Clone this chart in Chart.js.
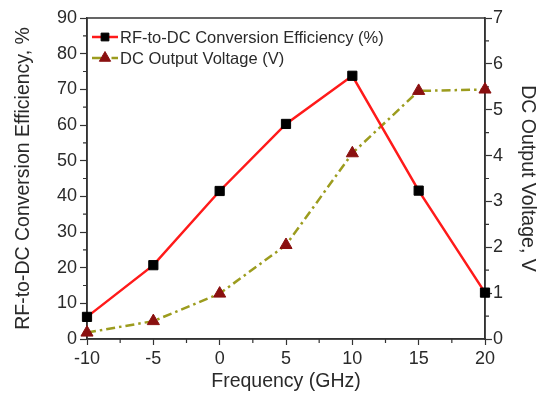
<!DOCTYPE html>
<html>
<head>
<meta charset="utf-8">
<script src="https://cdn.jsdelivr.net/npm/chart.js@4.4.1/dist/chart.umd.min.js"></script>
<style>
html,body{margin:0;padding:0;background:#fff;}
#wrap{width:548px;height:395px;position:relative;}
</style>
</head>
<body>
<div id="wrap"><canvas id="c" width="548" height="395"></canvas></div>
<script>
const frequencies = [-10, -5, 0, 5, 10, 15, 20];
const efficiency = [6.2, 20.7, 41.5, 60.3, 73.8, 41.6, 13.0];
const voltage = [0.14, 0.39, 0.99, 2.05, 4.05, 5.41, 5.44];
const xTicks = [-10, -5, 0, 5, 10, 15, 20];
const effLabel = 'RF-to-DC Conversion Efficiency (%)';
const voltLabel = 'DC Output Voltage (V)';

const FONT = "'Liberation Sans', Arial, sans-serif";
const AXIS = '#333333';
const TXT = '#2a2a2a';

const frameAndMinor = {
  id: 'frameAndMinor',
  beforeDatasetsDraw(chart) {
    const {ctx, chartArea: a, scales} = chart;
    ctx.save();
    ctx.strokeStyle = AXIS;
    ctx.lineWidth = 1.5;
    ctx.strokeRect(a.left, a.top, a.right - a.left, a.bottom - a.top);
    ctx.lineWidth = 1.2;
    ctx.beginPath();
    for (let v = -7.5; v < 20; v += 5) {
      const px = scales.x.getPixelForValue(v);
      ctx.moveTo(px, a.bottom); ctx.lineTo(px, a.bottom + 4);
    }
    for (let v = 5; v < 90; v += 10) {
      const py = scales.y.getPixelForValue(v);
      ctx.moveTo(a.left, py); ctx.lineTo(a.left - 4, py);
    }
    for (let v = 0.5; v < 7; v += 1) {
      const py = scales.y2.getPixelForValue(v);
      ctx.moveTo(a.right, py); ctx.lineTo(a.right + 4, py);
    }
    ctx.stroke();
    ctx.restore();
  },
  afterDraw(chart) {
    const {ctx, chartArea: a} = chart;
    const rows = [
      {ds: chart.data.datasets[0], y: a.top + 19, r: 5.5},
      {ds: chart.data.datasets[1], y: a.top + 40, r: 6.5}
    ];
    ctx.save();
    rows.forEach(r => {
      const x0 = a.left + 5, x1 = a.left + 31, xm = (x0 + x1) / 2;
      ctx.strokeStyle = r.ds.borderColor;
      ctx.lineWidth = r.ds.borderWidth;
      ctx.setLineDash(r.ds.borderDash || []);
      ctx.beginPath(); ctx.moveTo(x0, r.y); ctx.lineTo(x1, r.y); ctx.stroke();
      ctx.setLineDash([]);
      ctx.fillStyle = r.ds.pointBackgroundColor;
      ctx.strokeStyle = r.ds.pointBorderColor;
      ctx.lineWidth = 1;
      Chart.helpers.drawPoint(ctx, {
        pointStyle: r.ds.pointStyle, radius: r.r, rotation: 0, borderWidth: 1
      }, xm, r.y);
      ctx.fillStyle = TXT;
      ctx.font = '16.5px ' + FONT;
      ctx.textBaseline = 'middle';
      ctx.textAlign = 'left';
      ctx.fillText(r.ds.label, x1 + 2, r.y + 1);
    });
    ctx.restore();
  }
};

new Chart(document.getElementById('c'), {
  type: 'line',
  data: {
    datasets: [
      {
        label: effLabel,
        data: frequencies.map((f, i) => ({x: f, y: efficiency[i]})),
        yAxisID: 'y',
        borderColor: '#ff1a1a',
        borderWidth: 2.5,
        pointStyle: 'rect',
        pointRadius: 6.5,
        pointBackgroundColor: '#000',
        pointBorderColor: '#000',
        pointBorderWidth: 1,
        tension: 0,
        clip: false
      },
      {
        label: voltLabel,
        data: frequencies.map((f, i) => ({x: f, y: voltage[i]})),
        yAxisID: 'y2',
        borderColor: '#9c9c1e',
        borderWidth: 2.5,
        borderDash: [9, 4, 2.5, 4],
        pointStyle: 'triangle',
        pointRadius: 7,
        pointBackgroundColor: '#8a1010',
        pointBorderColor: '#8a1010',
        pointBorderWidth: 1,
        tension: 0,
        clip: false
      }
    ]
  },
  options: {
    responsive: false,
    animation: false,
    events: [],
    layout: {padding: {top: 18, left: 0, right: 0, bottom: 0}},
    plugins: {legend: {display: false}, tooltip: {enabled: false}},
    scales: {
      x: {
        type: 'linear', min: -10, max: 20,
        afterBuildTicks: s => { s.ticks = xTicks.map(v => ({value: v})); },
        afterFit: s => { s.height = 56; },
        grid: {drawOnChartArea: false, tickLength: 6, tickColor: AXIS, tickWidth: 1.2},
        border: {color: AXIS, width: 1.5},
        ticks: {color: TXT, font: {family: FONT, size: 18}, padding: 3, maxRotation: 0},
        title: {display: true, text: 'Frequency (GHz)', color: TXT,
                font: {family: FONT, size: 19.5}, padding: {top: 0, bottom: 2}}
      },
      y: {
        position: 'left', min: 0, max: 90,
        ticks: {stepSize: 10, color: TXT, font: {family: FONT, size: 18}, padding: 3},
        afterFit: s => { s.width = 87; },
        grid: {drawOnChartArea: false, tickLength: 7, tickColor: AXIS, tickWidth: 1.2},
        border: {color: AXIS, width: 1.5},
        title: {display: true, text: 'RF-to-DC Conversion Efficiency, %', color: TXT,
                font: {family: FONT, size: 19.5}, padding: {top: 12, bottom: 0}}
      },
      y2: {
        position: 'right', min: 0, max: 7,
        ticks: {stepSize: 1, color: TXT, font: {family: FONT, size: 18}, padding: 1},
        afterFit: s => { s.width = 63; },
        grid: {drawOnChartArea: false, tickLength: 7, tickColor: AXIS, tickWidth: 1.2},
        border: {color: AXIS, width: 1.5},
        title: {display: true, text: 'DC Output Voltage, V', color: TXT,
                font: {family: FONT, size: 19.5}, padding: {top: 9, bottom: 0}}
      }
    }
  },
  plugins: [frameAndMinor]
});
</script>
</body>
</html>
